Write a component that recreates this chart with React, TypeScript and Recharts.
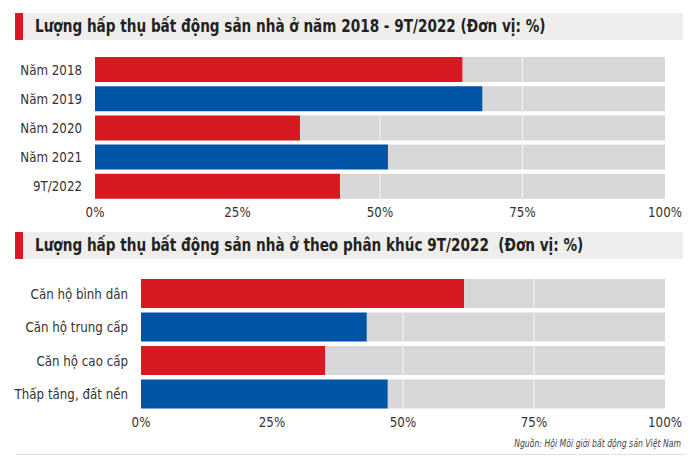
import React from 'react';
import { BarChart, Bar, XAxis, YAxis, Cell } from 'recharts';

const years = ['Năm 2018', 'Năm 2019', 'Năm 2020', 'Năm 2021', '9T/2022'];
const yearValues = [64.5, 68, 36, 51.4, 43];
const segments = ['Căn hộ bình dân', 'Căn hộ trung cấp', 'Căn hộ cao cấp', 'Thấp tầng, đất nền'];
const segmentValues = [61.7, 43.1, 35.2, 47.1];
const xTicks = [0, 25, 50, 75, 100];
const barColors = ['#d71a21', '#0054a6'];

const title1 = 'Lượng hấp thụ bất động sản nhà ở năm 2018 - 9T/2022 (Đơn vị: %)';
const title2 = 'Lượng hấp thụ bất động sản nhà ở theo phân khúc 9T/2022  (Đơn vị: %)';
const source = 'Nguồn: Hội Môi giới bất động sản Việt Nam';

const FONT = '"Liberation Sans Narrow", "DejaVu Sans Condensed", "Roboto", sans-serif';
const GRAY = '#d7d7da';
const NARROW = 0.91;

const toRows = (names: string[], values: number[]) =>
  names.map((name, i) => ({ name, value: values[i], rest: 100 - values[i] }));

// gray remainder with the white grid lines drawn on it only
const RestShape = (props: any) => {
  const { x, y, width, height, payload } = props;
  const v = payload.value;
  const lines = xTicks.filter(t => t > v && t < 100);
  return (
    <g>
      <rect x={x} y={y} width={width} height={height} fill={GRAY} />
      {lines.map(t => {
        const px = x + ((t - v) / (100 - v)) * width;
        return <line key={t} x1={px} x2={px} y1={y} y2={y + height} stroke="#f2f2f4" strokeWidth={1.2} />;
      })}
    </g>
  );
};

// squeezed tick text, the source uses a condensed face
const NarrowTick = (props: any) => {
  const { x, y, payload, textAnchor, dy, tickFormatter } = props;
  const label = tickFormatter ? tickFormatter(payload.value) : payload.value;
  return (
    <g transform={`translate(${x},${y})`}>
      <text
        transform={`scale(${NARROW},1)`}
        textAnchor={textAnchor}
        dy={dy}
        fontSize={14.5}
        fill="#333"
        fontFamily={FONT}
        style={{ fontStretch: 'condensed' }}
      >
        {label}
      </text>
    </g>
  );
};

const TitleBand = ({ top, text }: { top: number; text: string }) => (
  <div
    style={{
      position: 'absolute',
      top,
      left: 15,
      width: 668,
      height: 27,
      background: '#efeeec',
    }}
  >
    <div style={{ position: 'absolute', left: 0, top: 0, width: 8, height: 27, background: '#d71a21' }} />
    <div
      style={{
        position: 'absolute',
        left: 20,
        top: 0,
        lineHeight: '27px',
        fontSize: 17,
        fontWeight: 700,
        color: '#222',
        whiteSpace: 'pre',
        fontFamily: FONT,
        fontStretch: 'condensed',
        transform: 'scaleX(0.89)',
        transformOrigin: 'left center',
      }}
    >
      {text}
    </div>
  </div>
);

const HBarChart = ({
  rows,
  top,
  axisWidth,
  plotHeight,
  barSize,
}: {
  rows: { name: string; value: number; rest: number }[];
  top: number;
  axisWidth: number;
  plotHeight: number;
  barSize: number;
}) => (
  <div style={{ position: 'absolute', top, left: 0 }}>
    <BarChart
      width={700}
      height={plotHeight + 26}
      data={rows}
      layout="vertical"
      margin={{ top: 0, right: 35, left: 0, bottom: 0 }}
    >
      <XAxis
        type="number"
        domain={[0, 100]}
        ticks={xTicks}
        tickFormatter={v => `${v}%`}
        axisLine={false}
        tickLine={false}
        tickSize={0}
        tickMargin={6}
        height={26}
        tick={<NarrowTick dy="0.71em" />}
      />
      <YAxis
        type="category"
        dataKey="name"
        width={axisWidth}
        axisLine={false}
        tickLine={false}
        tickSize={0}
        tickMargin={13}
        tick={<NarrowTick dy="0.35em" />}
      />
      <Bar dataKey="value" stackId="a" barSize={barSize} isAnimationActive={false}>
        {rows.map((r, i) => (
          <Cell key={r.name} fill={barColors[i % 2]} />
        ))}
      </Bar>
      <Bar dataKey="rest" stackId="a" barSize={barSize} shape={RestShape} isAnimationActive={false} />
    </BarChart>
  </div>
);

export default function App() {
  const rows1 = toRows(years, yearValues);
  const rows2 = toRows(segments, segmentValues);
  return (
    <div
      style={{
        position: 'absolute',
        top: 0,
        left: 0,
        width: 700,
        height: 465,
        background: '#fff',
        overflow: 'hidden',
        fontFamily: FONT,
      }}
    >
      <TitleBand top={13} text={title1} />
      <HBarChart rows={rows1} top={55} axisWidth={95} plotHeight={146} barSize={25} />
      <TitleBand top={232} text={title2} />
      <HBarChart rows={rows2} top={277} axisWidth={141} plotHeight={134} barSize={29} />
      <div
        style={{
          position: 'absolute',
          right: 19,
          top: 438,
          fontSize: 10,
          fontStyle: 'italic',
          color: '#444',
          whiteSpace: 'pre',
          fontFamily: FONT,
          fontStretch: 'condensed',
          transform: 'scaleX(0.86)',
          transformOrigin: 'right center',
        }}
      >
        {source}
      </div>
      <div style={{ position: 'absolute', left: 16, top: 454, width: 670, height: 1, background: '#e2e2e2' }} />
    </div>
  );
}
